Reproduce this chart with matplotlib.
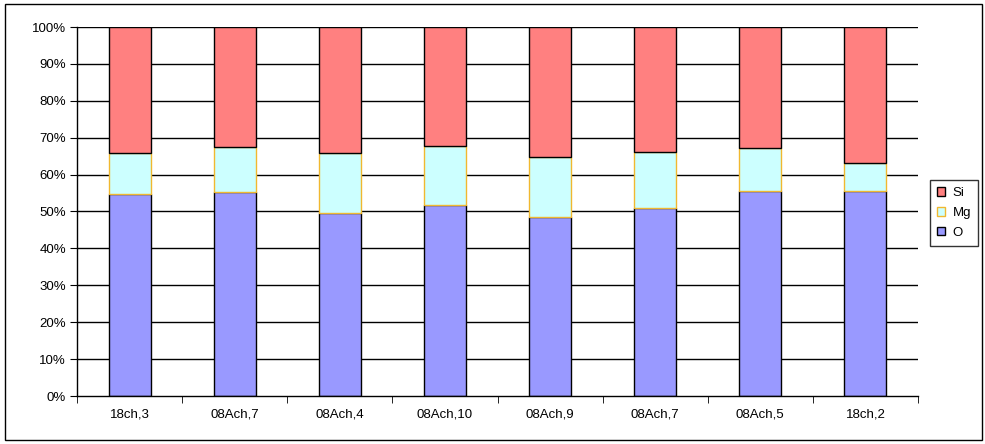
import matplotlib.pyplot as plt
from matplotlib.patches import Rectangle
from matplotlib.ticker import FuncFormatter
import numpy as np

plt.rcParams['font.family'] = ['Liberation Sans', 'DejaVu Sans']

# dados (percentagens)
amostras = ['18ch,3', '08Ach,7', '08Ach,4', '08Ach,10', '08Ach,9', '08Ach,7', '08Ach,5', '18ch,2']
o_pct = [54.7, 55.3, 49.6, 51.8, 48.5, 50.9, 55.6, 55.6]
mg_pct = [11.2, 12.2, 16.3, 16.0, 16.3, 15.2, 11.6, 7.5]
si_pct = [34.1, 32.5, 34.1, 32.2, 35.2, 33.9, 32.8, 36.9]

x = np.arange(len(amostras))
largura = 0.4

fig = plt.figure(figsize=(9.85, 4.44), dpi=100)
ax = fig.add_axes([77 / 985, 48 / 444, (918 - 77) / 985, (396 - 27) / 444])

# linhas de grade atras das barras
for v in range(10, 101, 10):
    ax.axhline(v / 100, color='black', lw=1, zorder=0)

o = np.array(o_pct) / 100
mg = np.array(mg_pct) / 100
si = np.array(si_pct) / 100
ax.bar(x, o, largura, color='#9999FF', edgecolor='black', lw=1, label='O', zorder=2)
ax.bar(x, mg, largura, bottom=o, color='#CCFFFF', edgecolor='#F0B830', lw=1, label='Mg', zorder=2)
ax.bar(x, si, largura, bottom=o + mg, color='#FF8080', edgecolor='black', lw=1, label='Si', zorder=2)

ax.set_xlim(-0.5, len(amostras) - 0.5)
ax.set_ylim(0, 1)
ax.set_yticks(np.arange(0, 1.01, 0.1))
ax.yaxis.set_major_formatter(FuncFormatter(lambda v, p: '%d%%' % round(v * 100)))
ax.set_xticks(x)
ax.set_xticklabels(amostras)
ax.set_xticks(np.arange(-0.5, len(amostras), 1), minor=True)
ax.tick_params(axis='x', which='major', length=0, pad=9, labelsize=9.5)
ax.tick_params(axis='x', which='minor', length=5, direction='out')
ax.tick_params(axis='y', length=5, direction='out', labelsize=9.5, pad=3)

for s in ['top', 'right']:
    ax.spines[s].set_visible(False)
ax.spines['left'].set_linewidth(1)
ax.spines['bottom'].set_linewidth(1)

h, l = ax.get_legend_handles_labels()
leg = fig.legend(h[::-1], l[::-1], loc='center left', bbox_to_anchor=(930 / 985, 1 - 213 / 444),
                 frameon=True, fancybox=False, edgecolor='black', fontsize=9.5,
                 handlelength=0.6, handleheight=0.6, handletextpad=0.6,
                 borderpad=0.5, labelspacing=0.6, borderaxespad=0)
leg.get_frame().set_linewidth(1)

# moldura externa
fig.patches.append(Rectangle((5 / 985, 4 / 444), 977 / 985, 436 / 444, transform=fig.transFigure,
                             fill=False, edgecolor='black', lw=1))

fig.savefig('out.png', dpi=100)
